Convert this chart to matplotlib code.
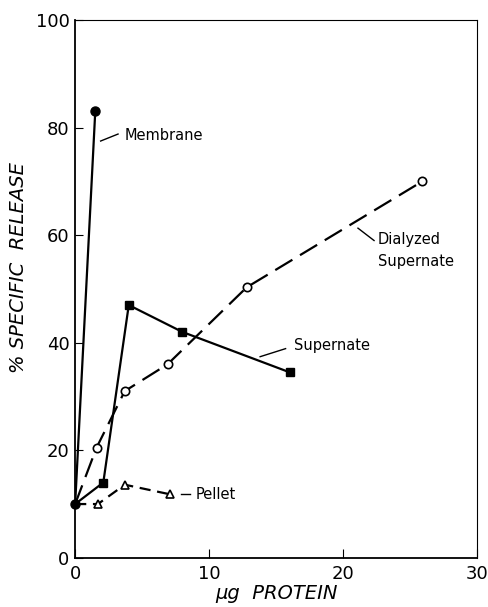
# % specific release vs protein
import matplotlib.pyplot as plt

# datos
membrane_x = [0, 1.5]
membrane_y = [10, 83]

supernate_x = [0, 2.1, 4.0, 8.0, 16.0]
supernate_y = [10, 14, 47, 42, 34.5]

dialyzed_x = [0, 1.6, 3.7, 6.9, 12.8, 25.9]
dialyzed_y = [10, 20.5, 31, 36, 50.3, 70]

pellet_x = [0, 1.7, 3.7, 7.1]
pellet_y = [10, 10, 13.6, 11.8]

x_ticks = [0, 10, 20, 30]
y_ticks = [0, 20, 40, 60, 80, 100]

plt.rcParams['font.family'] = ['DejaVu Sans']

fig = plt.figure(figsize=(4.88, 6.07), dpi=100)
ax = fig.add_axes([0.154, 0.081, 0.824, 0.886])

lw = 1.6
ax.plot(membrane_x, membrane_y, '-', color='black', lw=lw)
ax.plot(membrane_x[1:], membrane_y[1:], 'o', color='black', ms=6.5)

ax.plot(supernate_x, supernate_y, '-', color='black', lw=lw)
ax.plot(supernate_x[1:], supernate_y[1:], 's', color='black', ms=6)

ax.plot(dialyzed_x, dialyzed_y, color='black', lw=lw, dashes=(9, 4))
ax.plot(dialyzed_x[1:], dialyzed_y[1:], 'o', mfc='white', mec='black', mew=1.2, ms=6)

ax.plot(pellet_x, pellet_y, color='black', lw=lw, dashes=(5, 3))
ax.plot(pellet_x[1:], pellet_y[1:], '^', mfc='white', mec='black', mew=1.2, ms=6)

# punto inicial común
ax.plot([0], [10], 'o', color='black', ms=6.5, clip_on=False, zorder=5)

# etiquetas de las curvas
ax.plot([1.9, 3.2], [77.5, 78.8], '-', color='black', lw=1)
ax.text(3.7, 78.5, 'Membrane', fontsize=10.5, va='center')

ax.plot([21.1, 22.3], [61.3, 59.0], '-', color='black', lw=1)
ax.text(22.6, 59.1, 'Dialyzed', fontsize=10.5, va='center')
ax.text(22.6, 55.1, 'Supernate', fontsize=10.5, va='center')

ax.plot([13.8, 15.7], [37.4, 38.9], '-', color='black', lw=1)
ax.text(16.3, 39.4, 'Supernate', fontsize=10.5, va='center')

ax.plot([7.9, 8.6], [11.8, 11.8], '-', color='black', lw=1)
ax.text(9.0, 11.8, 'Pellet', fontsize=10.5, va='center')

ax.set_xlim(0, 30)
ax.set_ylim(0, 100)
ax.set_xticks(x_ticks)
ax.set_yticks(y_ticks)
ax.tick_params(axis='x', direction='in', length=6.5, labelsize=13, pad=5)
ax.tick_params(axis='y', direction='in', length=6, labelsize=13, pad=4)
for s in ['top', 'right']:
    ax.spines[s].set_linewidth(0.8)
for s in ['left', 'bottom']:
    ax.spines[s].set_linewidth(1.3)

ax.set_xlabel('μg  PROTEIN', fontsize=14, style='italic', labelpad=1)
ax.set_ylabel('% SPECIFIC  RELEASE', fontsize=14, style='italic')
ax.yaxis.set_label_coords(-0.117, 0.54)

plt.savefig('out.png', dpi=100)
